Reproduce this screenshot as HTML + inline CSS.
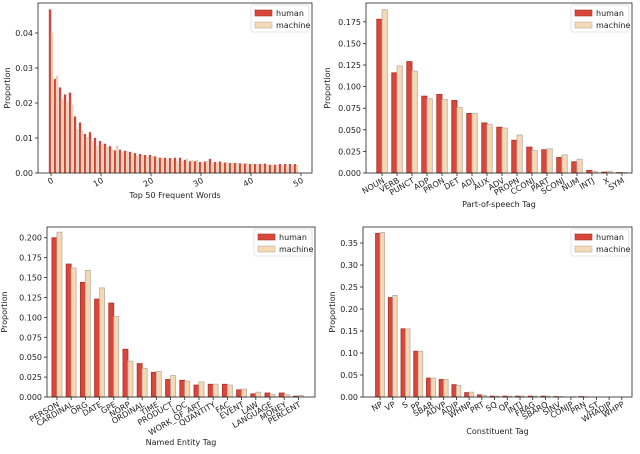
<!DOCTYPE html>
<html><head><meta charset="utf-8"><style>
body{margin:0;background:#fff;width:640px;height:449px;overflow:hidden}
svg{font-family:"DejaVu Sans","Liberation Sans",sans-serif}
</style></head><body>
<svg id="c" width="640" height="449" xmlns="http://www.w3.org/2000/svg"></svg>
<script>
const wordHuman=[0.0467,0.0268,0.0244,0.0224,0.0229,0.0161,0.0144,0.0111,0.0116,0.0100,0.0091,0.0083,0.0076,0.0064,0.0066,0.0063,0.0060,0.0056,0.0054,0.0051,0.0051,0.0047,0.0043,0.0043,0.0042,0.0043,0.0043,0.0037,0.0033,0.0033,0.0031,0.0032,0.0040,0.0031,0.0032,0.0029,0.0028,0.0028,0.0027,0.0026,0.0025,0.0025,0.0025,0.0026,0.0023,0.0023,0.0025,0.0025,0.0025,0.0025];
const wordMachine=[0.0400,0.0277,0.0209,0.0203,0.0194,0.0125,0.0121,0.0102,0.0090,0.0076,0.0082,0.0074,0.0068,0.0077,0.0058,0.0062,0.0055,0.0048,0.0050,0.0045,0.0048,0.0043,0.0043,0.0038,0.0036,0.0033,0.0032,0.0040,0.0036,0.0036,0.0029,0.0033,0.0026,0.0030,0.0026,0.0030,0.0028,0.0028,0.0027,0.0027,0.0026,0.0025,0.0025,0.0023,0.0023,0.0022,0.0022,0.0023,0.0022,0.0022];
const wordTicks=[0,10,20,30,40,50];
const wordYTicks=["0.00","0.01","0.02","0.03","0.04"];
const posCats=["NOUN","VERB","PUNCT","ADP","PRON","DET","ADJ","AUX","ADV","PROPN","CCONJ","PART","SCONJ","NUM","INTJ","X","SYM"];
const posHuman=[0.178,0.116,0.129,0.089,0.091,0.084,0.069,0.058,0.053,0.038,0.030,0.027,0.018,0.013,0.003,0.001,0.0005];
const posMachine=[0.189,0.124,0.118,0.086,0.085,0.076,0.069,0.056,0.052,0.044,0.026,0.028,0.021,0.016,0.002,0.002,0.0005];
const posYTicks=["0.000","0.025","0.050","0.075","0.100","0.125","0.150","0.175"];
const nerCats=["PERSON","CARDINAL","ORG","DATE","GPE","NORP","ORDINAL","TIME","PRODUCT","LOC","WORK_OF_ART","QUANTITY","FAC","EVENT","LAW","LANGUAGE","MONEY","PERCENT"];
const nerHuman=[0.200,0.167,0.144,0.123,0.118,0.060,0.042,0.031,0.022,0.021,0.015,0.016,0.016,0.009,0.004,0.005,0.005,0.001];
const nerMachine=[0.207,0.162,0.159,0.137,0.101,0.045,0.036,0.032,0.027,0.020,0.019,0.016,0.015,0.010,0.006,0.003,0.003,0.002];
const nerYTicks=["0.000","0.025","0.050","0.075","0.100","0.125","0.150","0.175","0.200"];
const conCats=["NP","VP","S","PP","SBAR","ADVP","ADJP","WHNP","PRT","SQ","QP","INTJ","FRAG","SBARQ","SINV","CONJP","PRN","LST","WHADJP","WHPP"];
const conHuman=[0.372,0.226,0.155,0.104,0.043,0.040,0.028,0.010,0.005,0.002,0.002,0.002,0.002,0.002,0.001,0,0.001,0,0,0];
const conMachine=[0.374,0.231,0.155,0.104,0.043,0.040,0.026,0.011,0.004,0.002,0.002,0.002,0.002,0.002,0.001,0.0005,0.0005,0,0,0];
const conYTicks=["0.00","0.05","0.10","0.15","0.20","0.25","0.30","0.35"];

const NS="http://www.w3.org/2000/svg";
const svg=document.getElementById('c');
function mk(tag,attrs,parent,text){const e=document.createElementNS(NS,tag);for(const k in attrs)e.setAttribute(k,attrs[k]);if(text!==undefined)e.textContent=text;(parent||svg).appendChild(e);return e;}

function panel(o){
  const g=mk('g',{});
  
  
  const L=o.L,R=o.R,T=o.T,B=o.B;
  const ys=v=>B-(v/o.ymax)*(B-T);
  const xs=v=>L+(v-o.xmin)/(o.xmax-o.xmin)*(R-L);
  const n=o.h.length, w=o.bw;
  for(let i=0;i<n;i++){
    const xc=xs(i);
    const hy=ys(o.h[i]);
    const r1=mk('rect',{x:xc-w,y:hy,width:w,height:B-hy,fill:'#d9473b',stroke:'#a83228','stroke-width':o.sw},g);
    
    
    const my=ys(o.m[i]);
    const r2=mk('rect',{x:xc,y:my,width:w,height:B-my,fill:'#f6d8b4',stroke:'#b8b0a6','stroke-width':o.sw},g);
    
    
  }
  const box=mk('rect',{x:L,y:T,width:R-L,height:B-T,fill:'none',stroke:'#222','stroke-width':0.8},g);
  
  
  o.yt.forEach(t=>{const y=ys(parseFloat(t));
    mk('line',{x1:L-3,x2:L,y1:y,y2:y,stroke:'#222','stroke-width':0.8},g);
    const tx=mk('text',{x:L-5,y:y+3,'text-anchor':'end','font-size':8,fill:'#222'},g,t);
    
    
  });
  const ticks=o.cats?o.cats.map((c,i)=>[i,c]):o.xt.map(v=>[v,String(v)]);
  ticks.forEach(([v,lab])=>{const x=xs(v);
    mk('line',{x1:x,x2:x,y1:B,y2:B+3,stroke:'#222','stroke-width':0.8},g);
    const tx=mk('text',{x:x+3,y:B+9,'text-anchor':'end','font-size':8,fill:'#222',transform:`rotate(-30 ${x+3} ${B+9})`},g,lab);
    
    
  });
  const xt=mk('text',{x:(L+R)/2,y:o.xly,'text-anchor':'middle','font-size':8,fill:'#222'},g,o.xlabel);
  
  
  const yt=mk('text',{x:o.ylx,y:(T+B)/2,'text-anchor':'middle','font-size':8,fill:'#222',transform:`rotate(-90 ${o.ylx} ${(T+B)/2})`},g,'Proportion');
  
  
  const lg=mk('g',{},g);
  
  
  const lx=R-61,ly=T+2;
  mk('rect',{x:lx,y:ly,width:58,height:27,rx:2,fill:'#fff',stroke:'#ddd','stroke-width':0.8},lg);
  mk('rect',{x:lx+4,y:ly+5,width:17,height:6,fill:'#d9473b',stroke:'#a83228','stroke-width':0.6},lg);
  mk('rect',{x:lx+4,y:ly+17,width:17,height:6,fill:'#f6d8b4',stroke:'#b8b0a6','stroke-width':0.6},lg);
  const t1=mk('text',{x:lx+25,y:ly+11,'font-size':8,fill:'#222'},lg,'human');
  
  
  const t2=mk('text',{x:lx+25,y:ly+23,'font-size':8,fill:'#222'},lg,'machine');
  
  
}
panel({name:'top-words-chart',L:38,R:312,T:3,B:173,xmin:-2.6,xmax:52.2,ymax:0.04857,bw:2,sw:0.3,h:wordHuman,m:wordMachine,xt:wordTicks,yt:wordYTicks,xlabel:'Top 50 Frequent Words',xly:198,ylx:10});
panel({name:'pos-tag-chart',L:366,R:632,T:3,B:173,xmin:-1.07,xmax:16.67,ymax:0.1968,bw:5.3,sw:0.8,h:posHuman,m:posMachine,cats:posCats,yt:posYTicks,xlabel:'Part-of-speech Tag',xly:207,ylx:330});
panel({name:'named-entity-chart',L:47,R:315,T:227,B:397,xmin:-0.7,xmax:18.17,ymax:0.2135,bw:5,sw:0.8,h:nerHuman,m:nerMachine,cats:nerCats,yt:nerYTicks,xlabel:'Named Entity Tag',xly:445,ylx:7});
panel({name:'constituent-tag-chart',L:363,R:632,T:227,B:397,xmin:-1.34,xmax:19.8,ymax:0.3864,bw:4.5,sw:0.8,h:conHuman,m:conMachine,cats:conCats,yt:conYTicks,xlabel:'Constituent Tag',xly:434,ylx:335});
</script>
</body></html>
